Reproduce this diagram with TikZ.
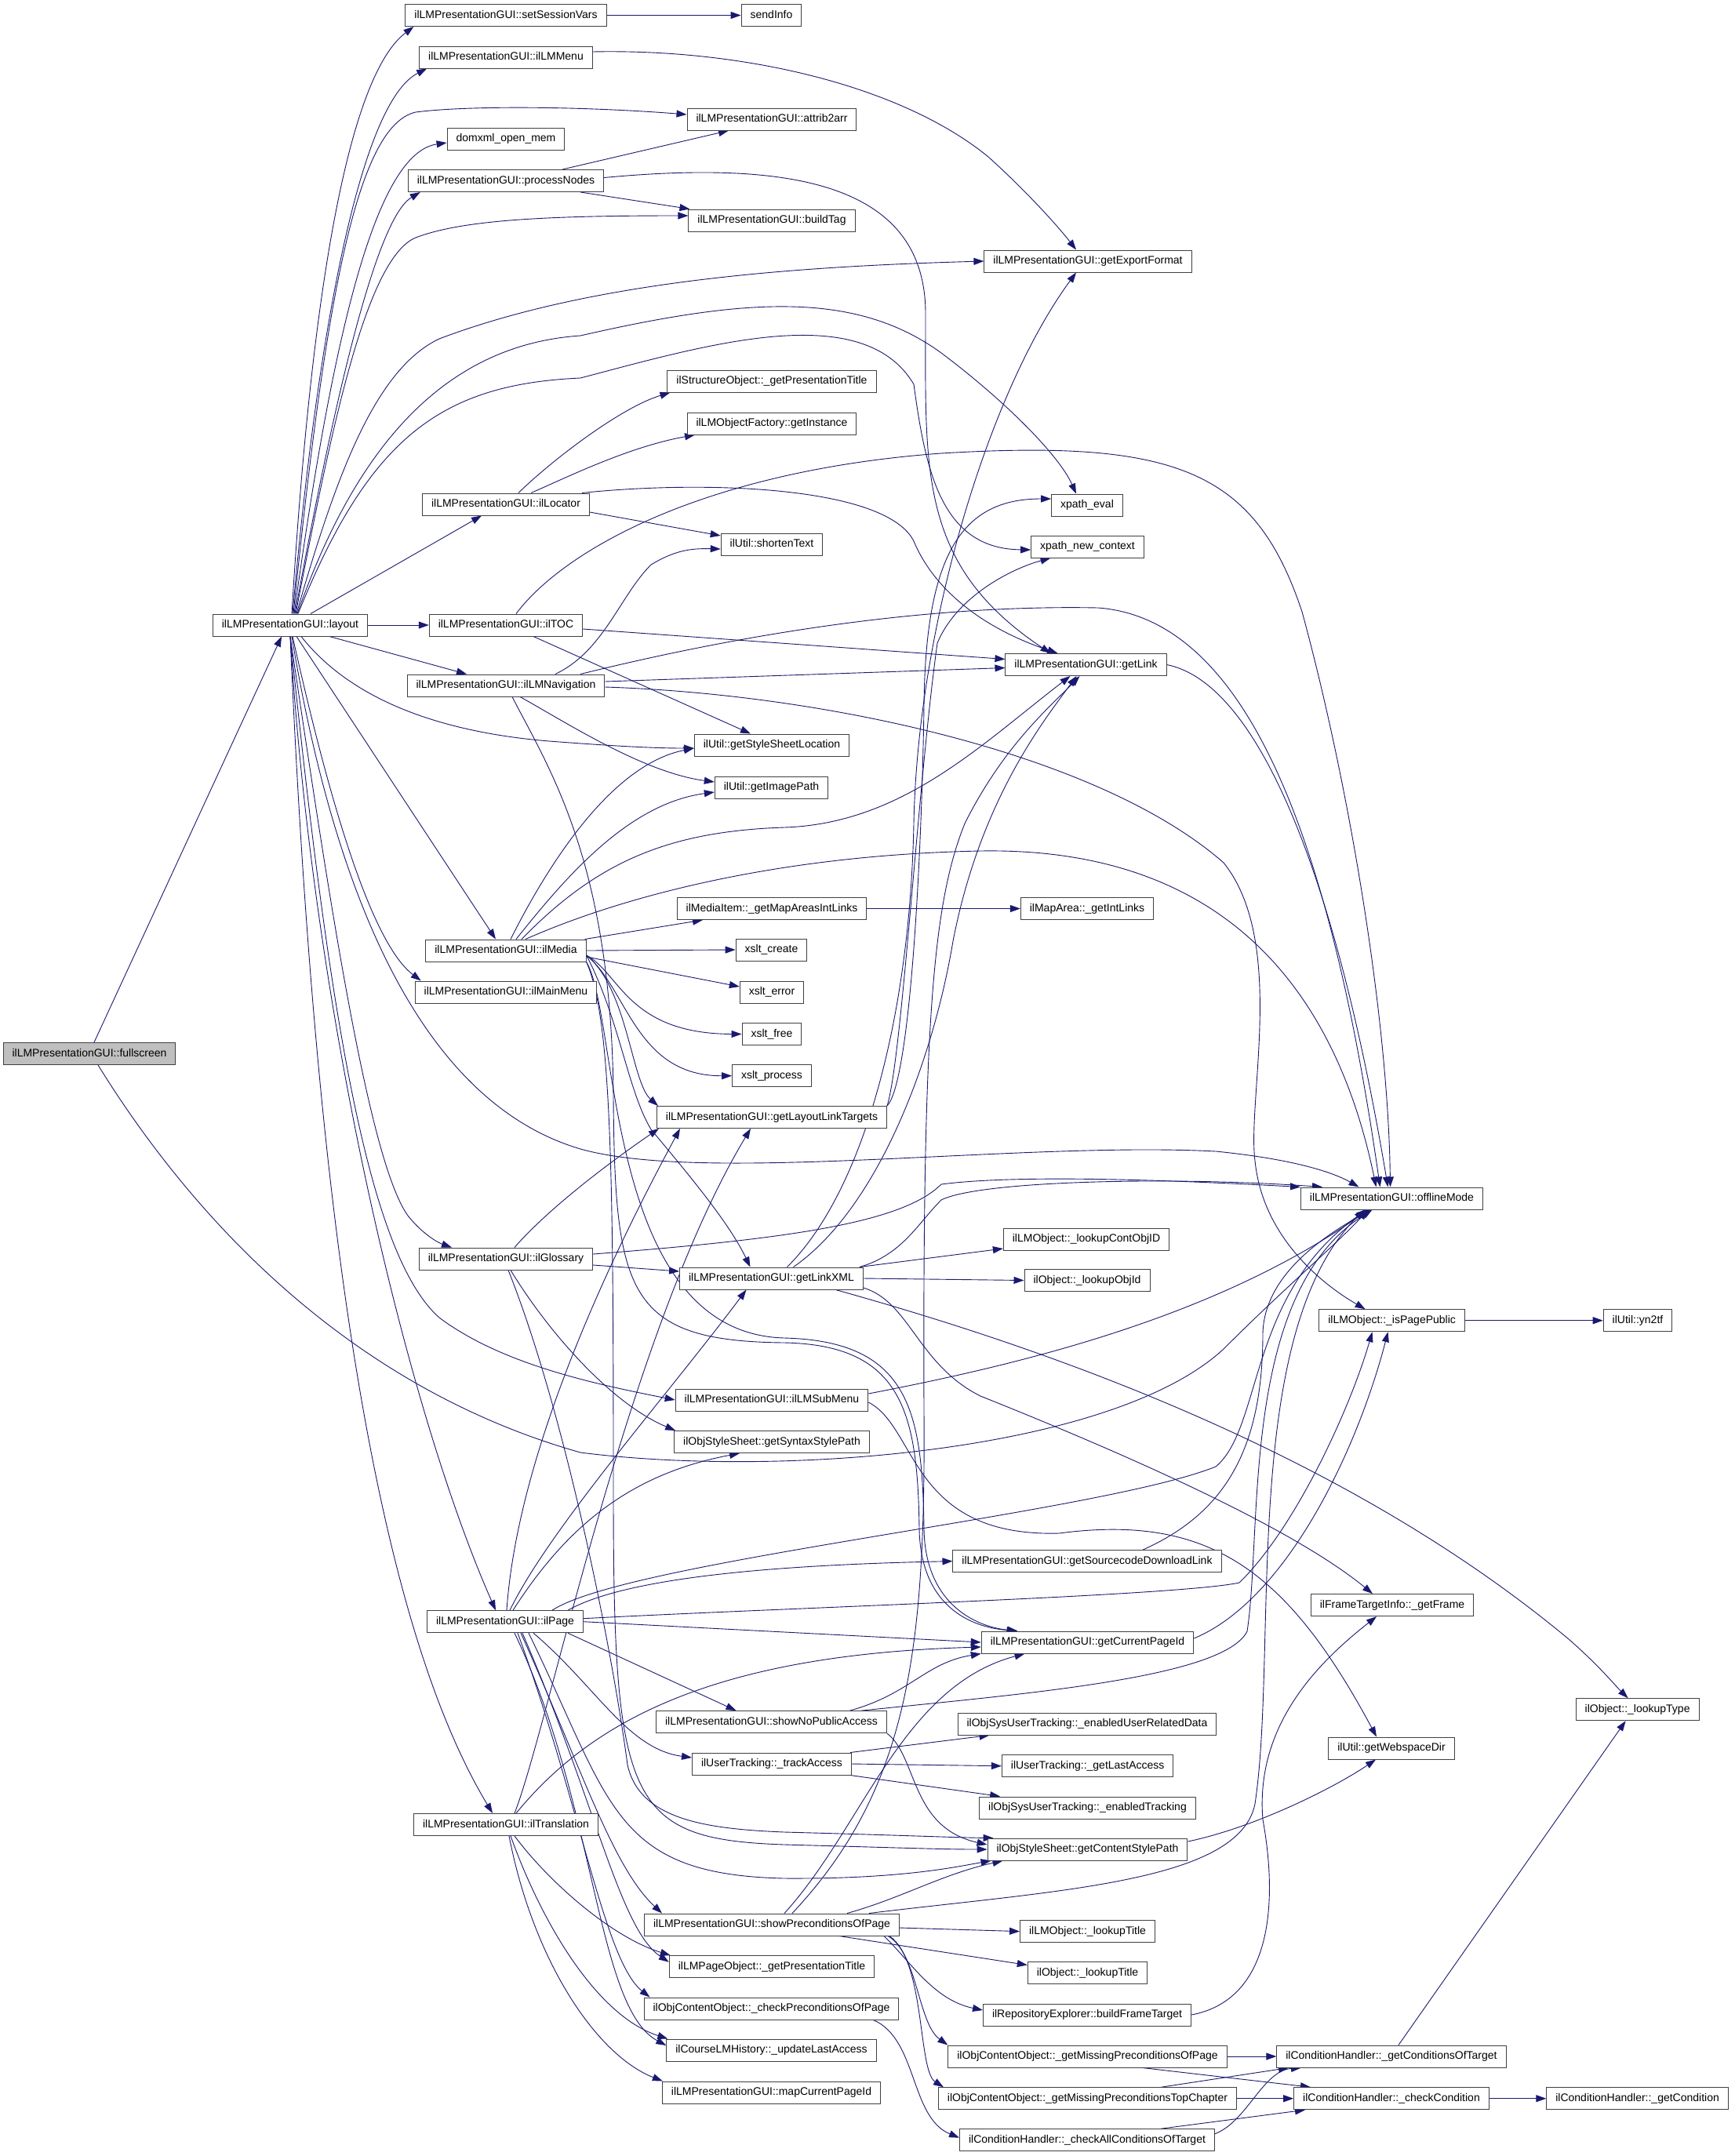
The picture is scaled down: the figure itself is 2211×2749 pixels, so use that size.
\documentclass[tikz,border=0pt]{standalone}
\usepackage{fontspec}
\setmainfont{Liberation Sans}
\usetikzlibrary{arrows.meta,backgrounds}
\definecolor{callblue}{HTML}{191970}
\begin{document}
\begin{tikzpicture}[x=1pt,y=1pt,
  fn/.style={draw=black!75, line width=1pt, fill=white, rectangle, minimum height=28pt,
    inner xsep=11.5pt, inner ysep=0pt, text height=10.5pt, text depth=3pt,
    font=\fontsize{14}{16}\selectfont},
  call/.style={draw=callblue, line width=0.9pt, -{Triangle[length=13pt,width=9pt]}}]
  \useasboundingbox (0,0) rectangle (2211,-2749);

  \node[fn, fill=black!25] (fullscreen) at (114,-1343.5) {ilLMPresentationGUI::fullscreen};
  \node[fn] (layout) at (370,-797) {ilLMPresentationGUI::layout};
  \node[fn] (setSessionVars) at (645,-19.5) {ilLMPresentationGUI::setSessionVars};
  \node[fn] (sendInfo) at (983.5,-19.5) {sendInfo};
  \node[fn] (lmmenu) at (645,-73) {ilLMPresentationGUI::ilLMMenu};
  \node[fn] (attrib) at (984,-152) {ilLMPresentationGUI::attrib2arr};
  \node[fn] (domxml) at (645,-177) {domxml\_open\_mem};
  \node[fn] (procnodes) at (645,-230.5) {ilLMPresentationGUI::processNodes};
  \node[fn] (buildtag) at (984,-281) {ilLMPresentationGUI::buildTag};
  \node[fn] (exportfmt) at (1387,-333) {ilLMPresentationGUI::getExportFormat};
  \node[fn] (structtitle) at (984,-486) {ilStructureObject::\_getPresentationTitle};
  \node[fn] (objfactory) at (984,-540) {ilLMObjectFactory::getInstance};
  \node[fn] (locator) at (645,-643) {ilLMPresentationGUI::ilLocator};
  \node[fn] (xpatheval) at (1386,-644) {xpath\_eval};
  \node[fn] (shorten) at (984,-694) {ilUtil::shortenText};
  \node[fn] (xpathctx) at (1386.5,-697) {xpath\_new\_context};
  \node[fn] (toc) at (645,-797) {ilLMPresentationGUI::ilTOC};
  \node[fn] (getlink) at (1384.5,-847.5) {ilLMPresentationGUI::getLink};
  \node[fn] (lmnav) at (645,-874) {ilLMPresentationGUI::ilLMNavigation};
  \node[fn] (stylesheetloc) at (984,-950) {ilUtil::getStyleSheetLocation};
  \node[fn] (imagepath) at (983.5,-1004) {ilUtil::getImagePath};
  \node[fn] (mapareas) at (984,-1158.5) {ilMediaItem::\_getMapAreasIntLinks};
  \node[fn] (intlinks) at (1386,-1158.5) {ilMapArea::\_getIntLinks};
  \node[fn] (media) at (645,-1212) {ilLMPresentationGUI::ilMedia};
  \node[fn] (xsltcreate) at (983.5,-1211) {xslt\_create};
  \node[fn] (mainmenu) at (645,-1265) {ilLMPresentationGUI::ilMainMenu};
  \node[fn] (xslterror) at (984,-1265) {xslt\_error};
  \node[fn] (xsltfree) at (984,-1318.5) {xslt\_free};
  \node[fn] (xsltprocess) at (984,-1371.7) {xslt\_process};
  \node[fn] (linktargets) at (984,-1424.5) {ilLMPresentationGUI::getLayoutLinkTargets};
  \node[fn] (offline) at (1774.5,-1528) {ilLMPresentationGUI::offlineMode};
  \node[fn] (contobjid) at (1385,-1580) {ilLMObject::\_lookupContObjID};
  \node[fn] (glossary) at (645,-1605) {ilLMPresentationGUI::ilGlossary};
  \node[fn] (linkxml) at (983.5,-1630) {ilLMPresentationGUI::getLinkXML};
  \node[fn] (lookupobjid) at (1386,-1632.5) {ilObject::\_lookupObjId};
  \node[fn] (ispublic) at (1774.6,-1683.7) {ilLMObject::\_isPagePublic};
  \node[fn] (yn2tf) at (2088,-1683.7) {ilUtil::yn2tf};
  \node[fn] (submenu) at (984,-1785) {ilLMPresentationGUI::ilLMSubMenu};
  \node[fn] (syntaxstyle) at (984,-1838.5) {ilObjStyleSheet::getSyntaxStylePath};
  \node[fn] (srcdownload) at (1386,-1990.6) {ilLMPresentationGUI::getSourcecodeDownloadLink};
  \node[fn] (getframe) at (1775,-2046.6) {ilFrameTargetInfo::\_getFrame};
  \node[fn] (page) at (644,-2067.7) {ilLMPresentationGUI::ilPage};
  \node[fn] (curpage) at (1386.5,-2094) {ilLMPresentationGUI::getCurrentPageId};
  \node[fn] (lookuptype) at (2087.6,-2179.7) {ilObject::\_lookupType};
  \node[fn] (nopublic) at (983.5,-2195.6) {ilLMPresentationGUI::showNoPublicAccess};
  \node[fn] (userdata) at (1386,-2198) {ilObjSysUserTracking::\_enabledUserRelatedData};
  \node[fn] (webspace) at (1774,-2229) {ilUtil::getWebspaceDir};
  \node[fn] (trackaccess) at (984,-2249) {ilUserTracking::\_trackAccess};
  \node[fn] (lastaccess) at (1386.7,-2251.7) {ilUserTracking::\_getLastAccess};
  \node[fn] (enabledtracking) at (1386.5,-2305) {ilObjSysUserTracking::\_enabledTracking};
  \node[fn] (translation) at (645,-2326.4) {ilLMPresentationGUI::ilTranslation};
  \node[fn] (contentstyle) at (1386.5,-2358) {ilObjStyleSheet::getContentStylePath};
  \node[fn] (precond) at (984,-2454) {ilLMPresentationGUI::showPreconditionsOfPage};
  \node[fn] (lmtitle) at (1386.5,-2462.6) {ilLMObject::\_lookupTitle};
  \node[fn] (pagetitle) at (984,-2507.7) {ilLMPageObject::\_getPresentationTitle};
  \node[fn] (objtitle) at (1386.5,-2515.5) {ilObject::\_lookupTitle};
  \node[fn] (checkprecond) at (983.5,-2561) {ilObjContentObject::\_checkPreconditionsOfPage};
  \node[fn] (frametarget) at (1386,-2569) {ilRepositoryExplorer::buildFrameTarget};
  \node[fn] (updateaccess) at (983.5,-2614) {ilCourseLMHistory::\_updateLastAccess};
  \node[fn] (condtarget) at (1774,-2622) {ilConditionHandler::\_getConditionsOfTarget};
  \node[fn] (missingpage) at (1386.5,-2622) {ilObjContentObject::\_getMissingPreconditionsOfPage};
  \node[fn] (mappage) at (983.5,-2668) {ilLMPresentationGUI::mapCurrentPageId};
  \node[fn] (missingchapter) at (1386.5,-2675.7) {ilObjContentObject::\_getMissingPreconditionsTopChapter};
  \node[fn] (checkcond) at (1774,-2675.7) {ilConditionHandler::\_checkCondition};
  \node[fn] (getcond) at (2087.6,-2675.7) {ilConditionHandler::\_getCondition};
  \node[fn] (checkall) at (1386,-2728.7) {ilConditionHandler::\_checkAllConditionsOfTarget};

  \begin{scope}[on background layer]
  \draw[call] ([xshift=6]fullscreen.north) -- ([xshift=-11]layout.south);
  \draw[call] ([xshift=11]fullscreen.south) .. controls (250,-1560) and (450,-1770) .. (740,-1852) .. controls (1000,-1885) and (1420,-1850) .. (1560,-1720) .. controls (1640,-1640) and (1700,-1590) .. ([xshift=-30]offline.south);

  \draw[call] ([xshift=2]layout.north) .. controls (395,-400) and (440,-100) .. ([xshift=11]setSessionVars.south west);
  \draw[call] ([xshift=3]layout.north) .. controls (405,-420) and (460,-130) .. ([xshift=10]lmmenu.south west);
  \draw[call] ([xshift=4]layout.north) .. controls (415,-380) and (455,-160) .. (530,-143) .. controls (600,-134) and (750,-136) .. ([yshift=6]attrib.west);
  \draw[call] ([xshift=5]layout.north) .. controls (425,-420) and (480,-195) .. ([yshift=-5]domxml.west);
  \draw[call] ([xshift=6]layout.north) .. controls (435,-460) and (485,-275) .. ([xshift=16]procnodes.south west);
  \draw[call] ([xshift=7]layout.north) .. controls (420,-560) and (465,-330) .. (530,-303) .. controls (590,-280) and (700,-275) .. ([yshift=6]buildtag.west);
  \draw[call] ([xshift=8]layout.north) .. controls (430,-600) and (480,-470) .. (560,-432) .. controls (750,-360) and (1000,-340) .. (exportfmt.west);
  \draw[call] ([xshift=9]layout.north) .. controls (450,-580) and (560,-440) .. (740,-428) .. controls (950,-380) and (1090,-370) .. (1200,-450) .. controls (1280,-510) and (1350,-580) .. ([xshift=-14]xpatheval.north);
  \draw[call] ([xshift=10]layout.north) .. controls (470,-560) and (560,-490) .. (740,-482) .. controls (900,-440) and (1100,-380) .. (1165,-490) .. controls (1180,-600) and (1200,-700) .. ([yshift=-4]xpathctx.west);
  \draw[call] ([xshift=26]layout.north) -- ([xshift=-31]locator.south);
  \draw[call] (layout.east) -- (toc.west);
  \draw[call] ([xshift=50]layout.south) -- ([xshift=-50]lmnav.north);
  \draw[call] ([xshift=14]layout.south) .. controls (430,-870) and (520,-930) .. (700,-945) .. controls (780,-951) and (830,-954) .. ([yshift=-4]stylesheetloc.west);
  \draw[call] ([xshift=8]layout.south) -- ([xshift=-13]media.north);
  \draw[call] ([xshift=3]layout.south) .. controls (415,-1000) and (470,-1200) .. ([xshift=8]mainmenu.north west);
  \draw[call] ([xshift=2]layout.south) .. controls (420,-1100) and (520,-1400) .. (740,-1465) .. controls (900,-1510) and (1300,-1455) .. (1550,-1468) .. controls (1650,-1478) and (1700,-1495) .. ([xshift=-42]offline.north);
  \draw[call] (layout.south) .. controls (420,-1150) and (470,-1480) .. (520,-1550) .. controls (540,-1575) and (560,-1585) .. ([xshift=-69]glossary.north);
  \draw[call] (layout.south) .. controls (420,-1300) and (470,-1600) .. (560,-1680) .. controls (640,-1740) and (760,-1765) .. (submenu.west);
  \draw[call] (layout.south) .. controls (400,-1300) and (520,-1800) .. ([xshift=-12]page.north);
  \draw[call] (layout.south) .. controls (400,-1500) and (470,-2050) .. ([xshift=-17]translation.north);

  \draw[call] (setSessionVars.east) -- (sendInfo.west);
  \draw[call] ([yshift=7]lmmenu.east) .. controls (950,-62) and (1150,-110) .. (1260,-200) .. controls (1310,-245) and (1350,-290) .. ([xshift=-15]exportfmt.north);
  \draw[call] ([xshift=72]procnodes.north) -- ([xshift=-55]attrib.south);
  \draw[call] ([xshift=95]procnodes.south) -- ([xshift=2]buildtag.north west);
  \draw[call] ([yshift=4]procnodes.east) .. controls (1000,-205) and (1180,-230) .. (1180,-400) .. controls (1180,-600) and (1170,-720) .. ([xshift=-45]getlink.north);
  \draw[call] ([xshift=16]locator.north) .. controls (700,-590) and (790,-520) .. ([xshift=4]structtitle.south west);
  \draw[call] ([xshift=32]locator.north) .. controls (720,-610) and (800,-570) .. ([xshift=-98]objfactory.south);
  \draw[call] ([yshift=-10]locator.east) -- ([yshift=11]shorten.west);
  \draw[call] ([xshift=-10]locator.north east) .. controls (900,-612) and (1130,-620) .. (1165,-690) .. controls (1190,-750) and (1250,-800) .. ([xshift=-36]getlink.north);

  \draw[call] ([yshift=-5]toc.east) -- ([yshift=7]getlink.west);
  \draw[call] ([xshift=35]toc.south) -- ([xshift=-27]stylesheetloc.north);
  \draw[call] ([xshift=13]toc.north) .. controls (720,-700) and (900,-600) .. (1200,-578) .. controls (1500,-560) and (1600,-600) .. (1660,-780) .. controls (1720,-1000) and (1770,-1300) .. ([xshift=-2]offline.north);

  \draw[call] ([xshift=63]lmnav.north) .. controls (770,-830) and (790,-760) .. (830,-720) .. controls (860,-702) and (880,-699) .. ([yshift=-6]shorten.west);
  \draw[call] ([yshift=5]lmnav.east) -- ([yshift=-4]getlink.west);
  \draw[call] ([xshift=95]lmnav.north) .. controls (900,-820) and (1150,-770) .. (1400,-775) .. controls (1600,-790) and (1700,-1100) .. ([xshift=-15]offline.north);
  \draw[call] ([yshift=-2]lmnav.east) .. controls (1050,-885) and (1400,-960) .. (1560,-1100) .. controls (1640,-1200) and (1590,-1400) .. (1600,-1480) .. controls (1610,-1580) and (1690,-1640) .. ([xshift=-34]ispublic.north);
  \draw[call] ([xshift=18]lmnav.south) .. controls (720,-920) and (820,-985) .. ([yshift=7]imagepath.west);
  \draw[call] ([xshift=8]lmnav.south) .. controls (700,-980) and (780,-1100) .. (782,-1400) .. controls (784,-1650) and (800,-1710) .. (1000,-1712) .. controls (1150,-1715) and (1170,-1800) .. (1172,-1950) .. controls (1174,-2050) and (1240,-2075) .. ([xshift=-90]curpage.north);

  \draw[call] ([xshift=6]media.north) .. controls (700,-1100) and (780,-975) .. ([yshift=-4]stylesheetloc.west);
  \draw[call] ([xshift=13]media.north) .. controls (720,-1120) and (800,-1025) .. ([yshift=-6]imagepath.west);
  \draw[call] ([xshift=20]media.north) .. controls (760,-1100) and (850,-1060) .. (1000,-1055) .. controls (1150,-1050) and (1250,-950) .. ([xshift=-20]getlink.south);
  \draw[call] ([xshift=25]media.north) .. controls (800,-1140) and (1000,-1090) .. (1250,-1085) .. controls (1550,-1080) and (1700,-1250) .. ([xshift=-20]offline.north);
  \draw[call] ([xshift=-2]media.north east) -- ([xshift=-88]mapareas.south);
  \draw[call] (media.east) -- (xsltcreate.west);
  \draw[call] ([yshift=-8]media.east) -- ([yshift=7]xslterror.west);
  \draw[call] ([yshift=-6]media.east) .. controls (790,-1240) and (800,-1318) .. (xsltfree.west);
  \draw[call] ([yshift=-6]media.east) .. controls (800,-1260) and (810,-1372) .. (xsltprocess.west);
  \draw[call] ([yshift=-6]media.east) .. controls (800,-1260) and (805,-1380) .. ([xshift=2]linktargets.north west);
  \draw[call] ([yshift=-6]media.east) .. controls (790,-1300) and (800,-1390) .. (830,-1440) .. controls (880,-1500) and (930,-1560) .. ([xshift=-27]linkxml.north);
  \draw[call] (media.south east) .. controls (780,-1300) and (782,-1500) .. (782,-1900) .. controls (782,-2300) and (800,-2345) .. (1000,-2352) .. controls (1150,-2356) and (1200,-2358) .. (contentstyle.west);
  \draw[call] (media.south east) .. controls (790,-1300) and (770,-1700) .. (1000,-1706) .. controls (1160,-1710) and (1176,-1800) .. (1178,-1950) .. controls (1180,-2050) and (1250,-2075) .. ([xshift=-89]curpage.north);

  \draw[call] (linktargets.north east) .. controls (1160,-1380) and (1175,-1100) .. (1178,-900) .. controls (1180,-700) and (1230,-636) .. ([yshift=8]xpatheval.west);
  \draw[call] (linktargets.north east) .. controls (1150,-1350) and (1170,-1000) .. (1195,-820) .. controls (1220,-760) and (1290,-725) .. ([xshift=-47]xpathctx.south);

  \draw[call] ([xshift=11]glossary.north) .. controls (700,-1540) and (780,-1480) .. ([xshift=3]linktargets.south west);
  \draw[call] ([yshift=-8]glossary.east) -- ([yshift=9]linkxml.west);
  \draw[call] ([yshift=6]glossary.east) .. controls (1000,-1580) and (1150,-1560) .. (1200,-1510) .. controls (1300,-1497) and (1500,-1505) .. (offline.north west);
  \draw[call] ([xshift=6]glossary.south) .. controls (700,-1700) and (780,-1790) .. ([xshift=2]syntaxstyle.north west);
  \draw[call] ([xshift=3]glossary.south) .. controls (720,-1800) and (780,-2100) .. (800,-2250) .. controls (815,-2320) and (900,-2332) .. (1000,-2336) .. controls (1150,-2340) and (1220,-2343) .. ([xshift=8]contentstyle.north west);

  \draw[call] ([xshift=28]linkxml.north) .. controls (1120,-1540) and (1190,-1350) .. (1215,-1200) .. controls (1250,-1020) and (1330,-920) .. ([xshift=-12]getlink.south);
  \draw[call] ([xshift=20]linkxml.north) .. controls (1100,-1520) and (1160,-1300) .. (1165,-1050) .. controls (1170,-800) and (1260,-500) .. ([xshift=-15]exportfmt.south);
  \draw[call] ([xshift=-5]linkxml.north east) -- ([yshift=-12]contobjid.west);
  \draw[call] (linkxml.east) -- (lookupobjid.west);
  \draw[call] ([xshift=82]linkxml.south) .. controls (1300,-1710) and (1700,-1840) .. (2000,-2090) .. controls (2040,-2125) and (2060,-2150) .. ([xshift=-12]lookuptype.north);
  \draw[call] ([yshift=-12]linkxml.east) .. controls (1160,-1660) and (1170,-1740) .. (1250,-1780) .. controls (1450,-1860) and (1650,-1950) .. ([xshift=-25]getframe.north);
  \draw[call] ([xshift=-5]linkxml.north east) .. controls (1150,-1600) and (1170,-1560) .. (1200,-1530) .. controls (1250,-1505) and (1500,-1500) .. ([xshift=28]offline.north west);

  \draw[call] (getlink.east) .. controls (1600,-870) and (1700,-1100) .. ([xshift=-5]offline.north);
  \draw[call] ([yshift=8]submenu.east) .. controls (1300,-1740) and (1550,-1680) .. ([xshift=-30]offline.south);
  \draw[call] ([yshift=-3]submenu.east) .. controls (1170,-1820) and (1160,-1960) .. (1350,-1955) .. controls (1540,-1930) and (1640,-2000) .. ([xshift=-19]webspace.north);
  \draw[call] ([xshift=71]srcdownload.north) .. controls (1560,-1930) and (1610,-1850) .. (1610,-1700) .. controls (1612,-1620) and (1700,-1570) .. ([xshift=-28]offline.south);
  \draw[call] ([yshift=5]curpage.east) .. controls (1640,-2040) and (1730,-1850) .. ([xshift=-5]ispublic.south);

  \draw[call] ([xshift=2]page.north) .. controls (660,-1850) and (780,-1600) .. ([xshift=-117]linktargets.south);
  \draw[call] ([xshift=6]page.north) .. controls (700,-1950) and (850,-1780) .. ([xshift=-32]linkxml.south);
  \draw[call] ([xshift=10]page.north) .. controls (720,-1950) and (800,-1880) .. ([xshift=-41]syntaxstyle.south);
  \draw[call] ([xshift=-20]page.north east) .. controls (800,-2010) and (1000,-1995) .. (srcdownload.west);
  \draw[call] ([xshift=-40]page.north east) .. controls (800,-1990) and (1400,-1930) .. (1550,-1870) .. controls (1610,-1820) and (1590,-1650) .. ([xshift=-32]offline.south);
  \draw[call] ([yshift=4]page.east) .. controls (1000,-2050) and (1500,-2035) .. (1580,-2018) .. controls (1650,-1950) and (1720,-1800) .. ([xshift=-25]ispublic.south);
  \draw[call] (page.east) -- (curpage.west);
  \draw[call] ([xshift=-20]page.south east) -- ([xshift=-45]nopublic.north);
  \draw[call] ([xshift=36]page.south) .. controls (760,-2150) and (800,-2230) .. ([yshift=8]trackaccess.west);
  \draw[call] ([xshift=30]page.south) .. controls (780,-2300) and (780,-2390) .. (1000,-2395) .. controls (1150,-2396) and (1220,-2380) .. ([xshift=5]contentstyle.south west);
  \draw[call] ([xshift=20]page.south) .. controls (740,-2250) and (780,-2380) .. ([xshift=-140]precond.north);
  \draw[call] ([xshift=22]page.south) .. controls (760,-2300) and (790,-2460) .. ([yshift=6]pagetitle.west);
  \draw[call] ([xshift=16]page.south) .. controls (740,-2300) and (770,-2500) .. ([xshift=8]checkprecond.north west);
  \draw[call] ([xshift=12]page.south) .. controls (760,-2300) and (760,-2560) .. ([yshift=6]updateaccess.west);

  \draw[call] ([xshift=11]translation.north) .. controls (700,-2200) and (800,-1700) .. ([xshift=-27]linktargets.south);
  \draw[call] ([xshift=13]translation.north) .. controls (750,-2200) and (900,-2110) .. ([yshift=-6]curpage.west);
  \draw[call] ([xshift=11]translation.south) .. controls (700,-2400) and (780,-2470) .. ([xshift=2]pagetitle.north west);
  \draw[call] ([xshift=6]translation.south) .. controls (690,-2450) and (760,-2570) .. ([xshift=2]updateaccess.north west);
  \draw[call] ([xshift=4]translation.south) .. controls (680,-2500) and (760,-2620) .. ([xshift=1]mappage.north west);

  \draw[call] ([xshift=100]nopublic.north) .. controls (1160,-2160) and (1180,-2120) .. (curpage.south west);
  \draw[call] ([xshift=115]nopublic.north) .. controls (1300,-2160) and (1560,-2140) .. (1590,-2080) .. controls (1610,-1950) and (1580,-1650) .. ([xshift=-25]offline.south);
  \draw[call] (nopublic.south east) .. controls (1170,-2240) and (1160,-2330) .. ([yshift=6]contentstyle.west);
  \draw[call] ([xshift=-2]trackaccess.north east) -- ([xshift=41]userdata.south west);
  \draw[call] (trackaccess.east) -- (lastaccess.west);
  \draw[call] ([xshift=-2]trackaccess.south east) -- ([xshift=27]enabledtracking.north west);
  \draw[call] ([yshift=10]contentstyle.east) .. controls (1600,-2330) and (1700,-2280) .. ([xshift=-20]webspace.south);

  \draw[call] ([xshift=16]precond.north) .. controls (1100,-2330) and (1150,-2150) .. ([xshift=-80]curpage.south);
  \draw[call] ([xshift=26]precond.north) .. controls (1160,-2280) and (1180,-2100) .. (1178,-1800) .. controls (1176,-1300) and (1190,-1150) .. (1230,-1050) .. controls (1280,-950) and (1340,-900) .. ([xshift=-8]getlink.south);
  \draw[call] ([xshift=124]precond.north) .. controls (1350,-2410) and (1580,-2400) .. (1600,-2300) .. controls (1630,-2100) and (1580,-1700) .. ([xshift=-35]offline.south);
  \draw[call] ([xshift=96]precond.north) .. controls (1150,-2420) and (1200,-2390) .. ([xshift=-108]contentstyle.south);
  \draw[call] ([yshift=-4]precond.east) -- (lmtitle.west);
  \draw[call] ([xshift=86]precond.south) -- ([yshift=10]objtitle.west);
  \draw[call] ([xshift=143]precond.south) .. controls (1160,-2500) and (1190,-2550) .. ([yshift=6]frametarget.west);
  \draw[call] ([xshift=148]precond.south) .. controls (1170,-2490) and (1170,-2580) .. (missingpage.north west);
  \draw[call] ([xshift=150]precond.south) .. controls (1180,-2500) and (1170,-2640) .. ([xshift=7]missingchapter.north west);
  \draw[call] (frametarget.east) .. controls (1620,-2550) and (1630,-2430) .. (1610,-2320) .. controls (1600,-2200) and (1680,-2120) .. ([xshift=-20]getframe.south);
  \draw[call] ([xshift=130]checkprecond.south) .. controls (1170,-2600) and (1160,-2700) .. ([yshift=3]checkall.west);

  \draw[call] (missingpage.east) -- (condtarget.west);
  \draw[call] ([xshift=70]missingpage.south) -- ([xshift=-103]checkcond.north);
  \draw[call] ([xshift=94]missingchapter.north) -- ([xshift=-131]condtarget.south);
  \draw[call] (missingchapter.east) -- (checkcond.west);
  \draw[call] ([yshift=8]checkall.east) .. controls (1590,-2705) and (1610,-2640) .. ([xshift=-115]condtarget.south);
  \draw[call] ([xshift=94]checkall.north) -- ([xshift=-110]checkcond.south);
  \draw[call] ([xshift=9]condtarget.north) -- ([xshift=-15]lookuptype.south);
  \draw[call] (checkcond.east) -- (getcond.west);
  \draw[call] (ispublic.east) -- (yn2tf.west);
  \draw[call] (mapareas.east) -- (intlinks.west);
  \end{scope}
\end{tikzpicture}
\end{document}
